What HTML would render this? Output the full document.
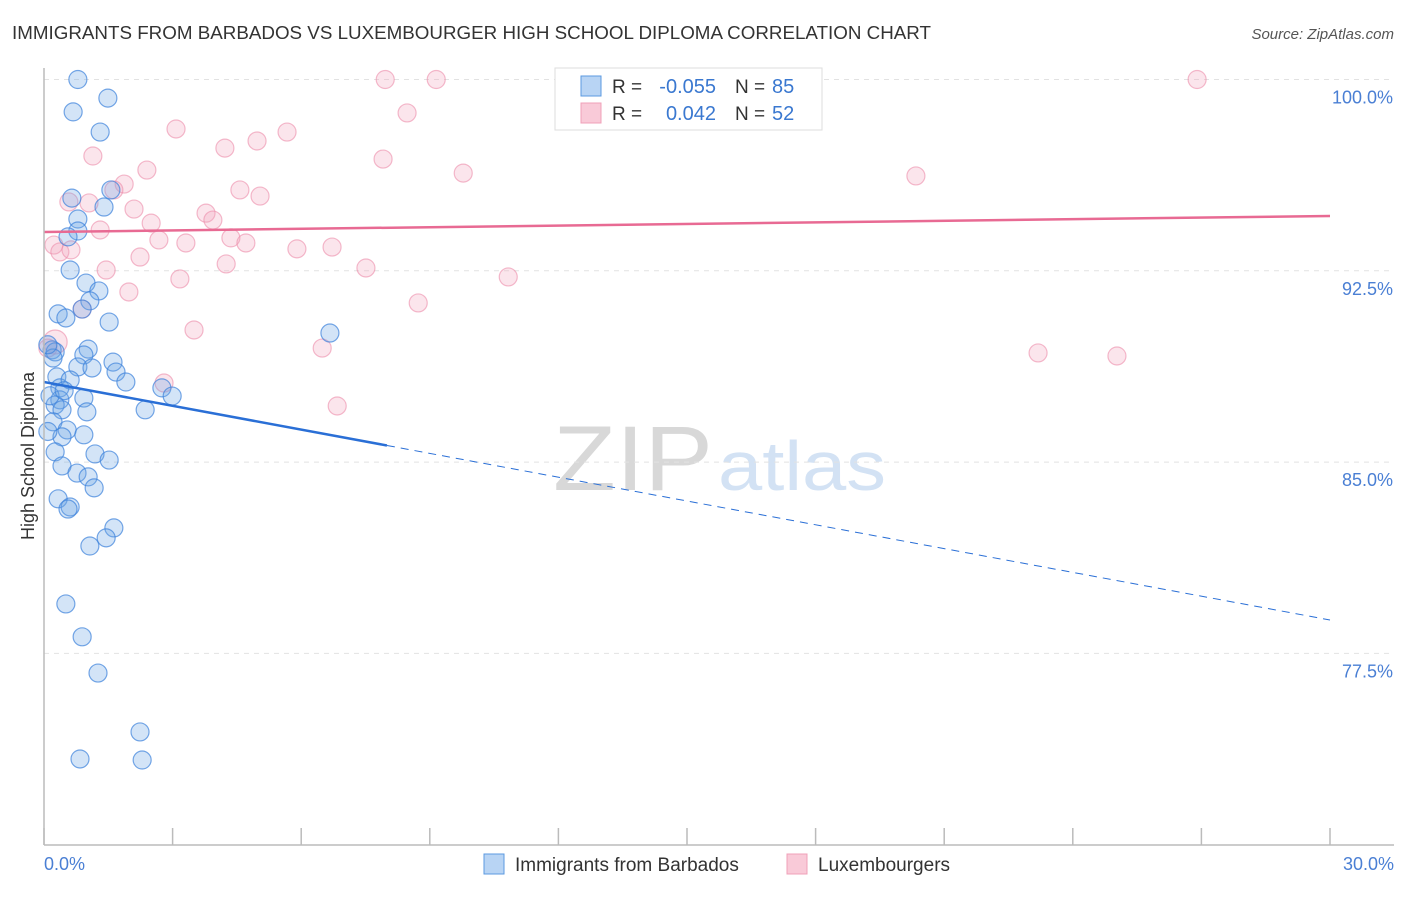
<!DOCTYPE html>
<html><head><meta charset="utf-8"><style>
body{margin:0;background:#fff;font-family:"Liberation Sans",sans-serif;}
svg text{font-family:"Liberation Sans",sans-serif;}
</style></head><body>
<svg id="chart" width="1406" height="892" xmlns="http://www.w3.org/2000/svg">
<text x="12" y="39" font-size="18" fill="#333" textLength="919" lengthAdjust="spacingAndGlyphs">IMMIGRANTS FROM BARBADOS VS LUXEMBOURGER HIGH SCHOOL DIPLOMA CORRELATION CHART</text>
<text x="1394" y="39" font-size="15" fill="#555" text-anchor="end" font-style="italic">Source: ZipAtlas.com</text>
<text transform="translate(34,456) rotate(-90)" font-size="18" fill="#333" text-anchor="middle">High School Diploma</text>
<g><text x="553" y="490" font-size="92" fill="#d8d8d8" font-family="Liberation Serif" textLength="160" lengthAdjust="spacingAndGlyphs">ZIP</text><text x="718" y="490" font-size="70" fill="#d3e2f4" textLength="168" lengthAdjust="spacingAndGlyphs">atlas</text></g>
<g id="grid"></g><g id="ticks"></g><g id="pts"></g><g id="trend"></g>
<line x1="44" y1="68" x2="44" y2="845" stroke="#bbb" stroke-width="1.5"/>
<line x1="44" y1="845" x2="1394" y2="845" stroke="#bbb" stroke-width="1.5"/>
<text x="44" y="870" font-size="18" fill="#4a7fd4">0.0%</text>
<text x="1394" y="870" font-size="18" fill="#4a7fd4" text-anchor="end">30.0%</text>
<g>
<rect x="555" y="68" width="267" height="62" fill="#fff" stroke="#ddd"/>
<rect x="581" y="76" width="20" height="20" fill="#b8d4f4" stroke="#5b9ae0"/>
<rect x="581" y="103" width="20" height="20" fill="#f9cad8" stroke="#f0a0b8"/>
<text x="612" y="93" font-size="19" fill="#333">R =</text>
<text x="716" y="93" font-size="20" fill="#3a78d0" text-anchor="end">-0.055</text>
<text x="735" y="93" font-size="19" fill="#333">N =</text>
<text x="772" y="93" font-size="20" fill="#3a78d0">85</text>
<text x="612" y="120" font-size="19" fill="#333">R =</text>
<text x="716" y="120" font-size="20" fill="#3a78d0" text-anchor="end">0.042</text>
<text x="735" y="120" font-size="19" fill="#333">N =</text>
<text x="772" y="120" font-size="20" fill="#3a78d0">52</text>
</g>
<g>
<rect x="484" y="854" width="20" height="20" fill="#b8d4f4" stroke="#5b9ae0"/>
<text x="515" y="871" font-size="19" fill="#333">Immigrants from Barbados</text>
<rect x="787" y="854" width="20" height="20" fill="#f9cad8" stroke="#f0a0b8"/>
<text x="818" y="871" font-size="19" fill="#333">Luxembourgers</text>
</g>
</svg>
<script>
const yTicks=[100,92.5,85,77.5];
const yTickLabels=["100.0%","92.5%","85.0%","77.5%"];
const blueX=[0.79,1.49,0.68,1.31,1.56,0.65,1.40,0.79,0.79,0.56,0.61,0.98,1.28,1.07,0.89,0.33,0.51,1.52,6.67,1.03,0.19,0.26,0.21,0.93,1.61,0.79,1.12,1.68,1.91,2.75,2.99,0.30,0.37,0.61,0.37,0.26,0.93,0.42,1.00,2.36,0.21,0.54,0.42,0.93,0.26,1.19,1.52,0.42,0.77,1.03,1.17,0.33,0.61,0.56,1.63,1.45,1.07,0.51,0.89,1.26,2.24,0.84,2.29,0.09,0.14,0.47,0.09];
const blueY=[100.0,99.27,98.73,97.94,95.67,95.35,95.00,94.53,94.06,93.83,92.53,92.02,91.71,91.32,91.00,90.81,90.65,90.49,90.06,89.43,89.40,89.32,89.08,89.20,88.92,88.73,88.69,88.53,88.14,87.91,87.59,88.34,87.91,88.22,87.44,87.24,87.51,87.05,86.97,87.05,86.58,86.26,85.99,86.07,85.40,85.32,85.08,84.85,84.57,84.42,83.99,83.56,83.24,83.16,82.42,82.03,81.71,79.44,78.15,76.73,74.42,73.36,73.32,89.6,87.6,87.8,86.2];
const pinkX=[7.96,9.15,26.9,8.47,3.08,5.67,4.97,4.22,1.14,7.91,2.40,9.78,20.34,1.87,1.63,4.57,5.04,0.58,1.05,2.10,3.78,3.94,2.50,1.31,4.36,2.68,3.31,4.71,0.23,0.37,0.63,5.90,6.72,2.24,4.25,1.45,7.51,10.83,3.17,1.98,0.89,8.73,3.50,6.49,23.19,25.03,0.26,0.09,2.80,6.84];
const pinkY=[100.0,100.0,100.0,98.69,98.06,97.94,97.59,97.31,97.0,96.88,96.45,96.33,96.22,95.90,95.67,95.67,95.43,95.20,95.16,94.92,94.76,94.49,94.37,94.10,93.79,93.71,93.59,93.59,93.51,93.24,93.32,93.36,93.43,93.04,92.77,92.53,92.61,92.26,92.18,91.67,91.00,91.24,90.18,89.47,89.28,89.16,89.71,89.47,88.10,87.20];
const blueTrend=[88.14,78.81];
const pinkTrend=[94.02,94.65];
const blueSolidEnd=8.0;
const xs=v=>44+v/30*1286;
const ys=v=>79.5+(100-v)/7.5*191.3;
const NS="http://www.w3.org/2000/svg";
function mk(t,a,p){const e=document.createElementNS(NS,t);for(const k in a)e.setAttribute(k,a[k]);p.appendChild(e);return e;}
const grid=document.getElementById('grid');
yTicks.forEach((t,i)=>{
 const l=mk('line',{x1:44,x2:1394,y1:ys(t),y2:ys(t),stroke:'#e2e2e2','stroke-dasharray':'5,5'},grid);
 
 
 const tx=mk('text',{x:1393,y:ys(t)+24,'font-size':18,fill:'#4a7fd4','text-anchor':'end'},grid);
 tx.textContent=yTickLabels[i];
 
 
});
const tk=document.getElementById('ticks');
for(let i=0;i<=10;i++){
 const l=mk('line',{x1:xs(i*3),x2:xs(i*3),y1:828,y2:845,stroke:'#bbb','stroke-width':1.5},tk);
 
 
}
const pts=document.getElementById('pts');
pinkX.forEach((x,i)=>{
 const c=mk('circle',{cx:xs(x),cy:ys(pinkY[i]),r:(i==46?12:9),fill:'rgba(242,160,188,0.28)',stroke:'rgba(236,140,170,0.6)','stroke-width':1.2},pts);
 
 
});
blueX.forEach((x,i)=>{
 const c=mk('circle',{cx:xs(x),cy:ys(blueY[i]),r:9,fill:'rgba(110,165,230,0.3)',stroke:'rgba(60,130,220,0.7)','stroke-width':1.2},pts);
 
 
});
const tr=document.getElementById('trend');
const by=x=>blueTrend[0]+(blueTrend[1]-blueTrend[0])*x/30;
let l=mk('line',{x1:xs(0),y1:ys(blueTrend[0]),x2:xs(blueSolidEnd),y2:ys(by(blueSolidEnd)),stroke:'#2a6fd6','stroke-width':2.5},tr);


l=mk('line',{x1:xs(blueSolidEnd),y1:ys(by(blueSolidEnd)),x2:xs(30),y2:ys(blueTrend[1]),stroke:'#2a6fd6','stroke-width':1,'stroke-dasharray':'8,6'},tr);


l=mk('line',{x1:xs(0),y1:ys(pinkTrend[0]),x2:xs(30),y2:ys(pinkTrend[1]),stroke:'#e86a93','stroke-width':2.5},tr);


</script>
</body></html>
